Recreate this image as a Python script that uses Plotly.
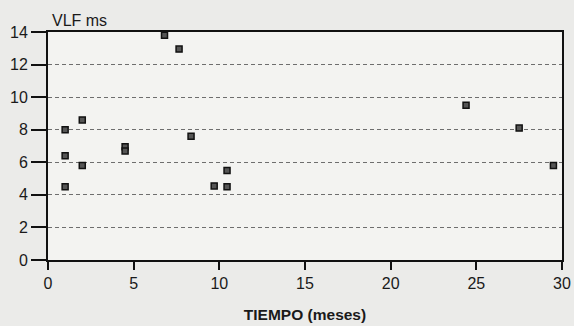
import plotly.graph_objects as go

tiempo_meses = [1.0, 1.0, 1.0, 2.0, 2.0, 4.5, 4.5, 6.8, 7.65, 8.35, 9.7, 10.45, 10.45, 24.4, 27.5, 29.5]
vlf_ms = [8.0, 6.4, 4.5, 8.6, 5.8, 6.95, 6.7, 13.8, 12.95, 7.6, 4.55, 4.5, 5.5, 9.5, 8.1, 5.8]

x_ticks = [0, 5, 10, 15, 20, 25, 30]
y_ticks = [0, 2, 4, 6, 8, 10, 12, 14]

fig = go.Figure()
fig.add_trace(go.Scatter(
    x=tiempo_meses, y=vlf_ms, mode="markers",
    marker=dict(symbol="square", size=6, color="#555555",
                line=dict(color="#111111", width=1.5)),
    showlegend=False, cliponaxis=False,
))

fig.update_layout(
    width=574, height=326,
    margin=dict(l=48, r=12, t=32, b=66),
    paper_bgcolor="#ebebe9",
    plot_bgcolor="#f3f3f1",
    font=dict(family="Liberation Sans, Arial, sans-serif", color="#1a1a1a"),
    xaxis=dict(
        range=[0, 30], tickvals=x_ticks, ticks="outside", ticklen=8,
        tickwidth=2, tickcolor="#111", showline=True, linecolor="#111",
        linewidth=2, mirror=True, showgrid=False, zeroline=False,
        tickfont=dict(size=16), automargin=False,
        title=dict(text="<b>TIEMPO (meses)</b>", font=dict(size=15.5), standoff=18),
    ),
    yaxis=dict(
        range=[0, 14], tickvals=y_ticks, ticks="outside", ticklen=15,
        tickwidth=2, tickcolor="#111", showline=True, linecolor="#111",
        linewidth=2, mirror=True, showgrid=True, gridcolor="#6e6e6e",
        griddash="4px,3px", gridwidth=1, zeroline=False,
        tickfont=dict(size=16), automargin=False,
    ),
    annotations=[dict(text="VLF ms", xref="paper", yref="paper", x=0.004, y=1.0,
                      xanchor="left", yanchor="bottom", showarrow=False,
                      yshift=1, font=dict(size=16))],
)

fig.write_html("out.html", config={"displayModeBar": False},
               post_script="document.body.style.margin='0';document.body.style.background='#ebebe9';")
